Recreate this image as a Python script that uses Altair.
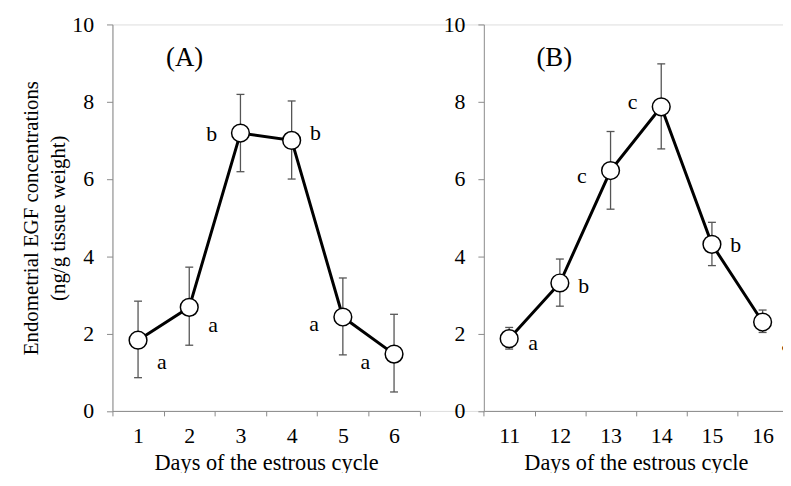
import altair as alt
import pandas as pd

# ---- data ----
days_a = ["1", "2", "3", "4", "5", "6"]
mean_a = [1.83, 2.68, 7.19, 7.00, 2.43, 1.47]
upper_a = [2.84, 3.72, 8.19, 8.02, 3.44, 2.50]
lower_a = [0.86, 1.70, 6.19, 6.00, 1.45, 0.49]
letters_a = ["a", "a", "b", "b", "a", "a"]
side_a = ["R", "R", "L", "R", "L", "L"]
letter_y_a = [1.27, 2.23, 7.16, 7.20, 2.24, 1.26]

days_b = ["11", "12", "13", "14", "15", "16"]
mean_b = [1.87, 3.31, 6.22, 7.87, 4.31, 2.30]
upper_b = [2.16, 3.93, 7.23, 8.98, 4.88, 2.61]
lower_b = [1.60, 2.71, 5.22, 6.78, 3.76, 2.03]
letters_b = ["a", "b", "c", "c", "b", "a"]
side_b = ["R", "R", "L", "L", "R", "R"]
letter_y_b = [1.75, 3.24, 6.07, 7.99, 4.28, 1.73]

y_ticks = [0, 2, 4, 6, 8, 10]
x_title = "Days of the estrous cycle"
y_title = ["Endometrial EGF concentrations", "(ng/g tissue weight)"]

FONT = "Liberation Serif"
GRAY = "#8a8a8a"
ERR = "#555555"

PLOT_H = 389.6
RANGE_A = [0, 309.7]
RANGE_B = [374.4, 681.0]


def make_df(days, mean, upper, lower, letters, side, ly):
    return pd.DataFrame({"day": days, "mean": mean, "upper": upper, "lower": lower,
                         "letter": letters, "side": side, "ly": ly})


def panel(df, domain, rng, label, label_x, y_axis):
    x_axis = alt.Axis(title=x_title, orient="bottom", tickBand="extent", labelAngle=0,
                      tickSize=5, labelPadding=10, labelFontSize=22, labelFont=FONT,
                      labelColor="black", titleFont=FONT, titleFontSize=22.5,
                      titleFontWeight="normal", titleColor="black",
                      titleBaseline="alphabetic", titleY=58.7,
                      domainColor=GRAY, tickColor=GRAY, grid=False)
    xs = alt.Scale(type="band", domain=domain, range=rng, paddingInner=0, paddingOuter=0)
    x = alt.X("day:N", scale=xs, sort=domain, axis=x_axis)
    ys = alt.Scale(domain=[0, 10], nice=False, zero=True)

    def y(field):
        return alt.Y(field, scale=ys, axis=y_axis)

    base = alt.Chart(df)
    rules = base.mark_rule(color=ERR, strokeWidth=1.3).encode(x=x, y=y("lower:Q"), y2="upper:Q")
    cap_hi = base.mark_tick(color=ERR, size=8, thickness=1.3, opacity=1).encode(x=x, y=y("upper:Q"))
    cap_lo = base.mark_tick(color=ERR, size=8, thickness=1.3, opacity=1).encode(x=x, y=y("lower:Q"))
    line = base.mark_line(color="black", strokeWidth=3).encode(x=x, y=y("mean:Q"))
    pts = base.mark_point(shape="circle", size=320, filled=True, fill="white",
                          stroke="black", strokeWidth=1.5, opacity=1).encode(x=x, y=y("mean:Q"))
    txt_r = base.transform_filter(alt.datum.side == "R").mark_text(
        dx=24, font=FONT, fontSize=22, baseline="middle", align="center", color="black"
    ).encode(x=x, y=y("ly:Q"), text="letter:N")
    txt_l = base.transform_filter(alt.datum.side == "L").mark_text(
        dx=-29, font=FONT, fontSize=22, baseline="middle", align="center", color="black"
    ).encode(x=x, y=y("ly:Q"), text="letter:N")
    lab = alt.Chart(pd.DataFrame({"t": [label]})).mark_text(
        font=FONT, fontSize=27, baseline="middle", align="center", color="black"
    ).encode(x=alt.value(label_x), y=alt.value(34), text="t:N")
    return alt.layer(rules, cap_hi, cap_lo, line, pts, txt_r, txt_l, lab)


common_y = dict(orient="left", values=y_ticks, tickSize=6, labelPadding=13, labelFontSize=22,
                labelFont=FONT, labelColor="black", labelFlush=False, labelOverlap=False,
                domainColor=GRAY, tickColor=GRAY, grid=False)

y_axis_a = alt.Axis(title=y_title, titleFont=FONT, titleFontSize=21, titleLineHeight=27,
                    titleFontWeight="normal", titleColor="black", titleAngle=270,
                    titleX=-81.8, titleY=PLOT_H / 2, titleBaseline="middle",
                    titleAlign="center", **common_y)
y_axis_b = alt.Axis(title=None, offset=-RANGE_B[0], **common_y)

pa = panel(make_df(days_a, mean_a, upper_a, lower_a, letters_a, side_a, letter_y_a),
           days_a, RANGE_A, "(A)", 72.7, y_axis_a)
pb = panel(make_df(days_b, mean_b, upper_b, lower_b, letters_b, side_b, letter_y_b),
           days_b, RANGE_B, "(B)", 445.4, y_axis_b)

chart = alt.layer(pa, pb).resolve_scale(
    x="independent", y="independent"
).resolve_axis(
    x="independent", y="independent"
).properties(
    width=676, height=PLOT_H,
    autosize=alt.AutoSizeParams(type="none"),
    padding={"left": 105.3, "top": 14.7, "right": 0, "bottom": 61},
).configure_view(stroke=None).configure(font=FONT, background="white")

chart.save("out.html", embed_options={"renderer": "svg", "actions": False})
